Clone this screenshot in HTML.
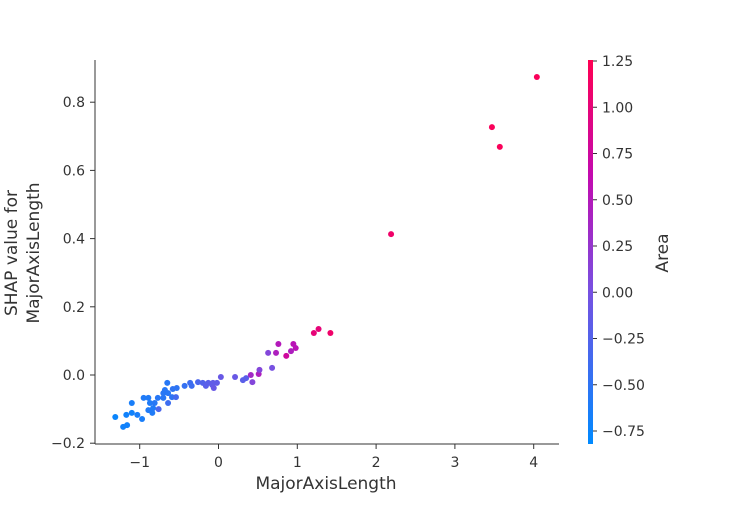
<!DOCTYPE html>
<html><head><meta charset="utf-8"><style>
body{margin:0;background:#fff}
svg{font-family:"DejaVu Sans","Liberation Sans",sans-serif;}
</style></head><body>
<svg id="chart" width="750" height="500" viewBox="0 0 750 500">
<defs><linearGradient id="cbg" x1="0" y1="1" x2="0" y2="0">
<stop offset="0" stop-color="rgb(0,138,255)"/><stop offset="0.4" stop-color="rgb(120,80,225)"/>
<stop offset="0.7" stop-color="rgb(195,10,175)"/><stop offset="1" stop-color="rgb(255,0,82)"/></linearGradient></defs>
<g id="plot"></g>
</svg>
<script>
const xVals=[-1.31,-1.21,-1.16,-1.17,-1.10,-1.03,-0.97,-1.10,-0.95,-0.89,-0.87,-0.89,-0.84,-0.83,-0.81,-0.76,-0.77,-0.70,-0.70,-0.68,-0.65,-0.64,-0.59,-0.58,-0.53,-0.54,-0.64,-0.43,-0.36,-0.34,-0.26,-0.20,-0.16,-0.13,-0.08,-0.07,-0.02,-0.06,0.03,0.21,0.31,0.35,0.41,0.43,0.51,0.52,0.68,0.63,0.73,0.76,0.86,0.92,0.95,0.98,1.21,1.27,1.42,2.19,3.47,3.57,4.04];
const yVals=[-0.123,-0.152,-0.147,-0.117,-0.111,-0.117,-0.129,-0.082,-0.067,-0.067,-0.082,-0.103,-0.111,-0.097,-0.082,-0.100,-0.067,-0.067,-0.053,-0.044,-0.023,-0.053,-0.065,-0.041,-0.038,-0.065,-0.082,-0.032,-0.023,-0.032,-0.021,-0.023,-0.032,-0.023,-0.029,-0.023,-0.023,-0.038,-0.006,-0.006,-0.015,-0.009,0.000,-0.021,0.003,0.015,0.021,0.065,0.065,0.091,0.056,0.070,0.091,0.079,0.123,0.135,0.123,0.413,0.727,0.669,0.874];
const areaVals=[-0.75,-0.7,-0.7,-0.7,-0.7,-0.65,-0.65,-0.65,-0.6,-0.6,-0.6,-0.6,-0.6,-0.6,-0.55,-0.3,-0.55,-0.55,-0.55,-0.55,-0.55,-0.55,-0.5,-0.5,-0.5,-0.35,-0.4,-0.45,-0.4,-0.4,-0.3,-0.25,-0.2,-0.2,-0.15,-0.15,-0.15,-0.1,-0.1,-0.1,-0.2,-0.2,0.35,0.1,0.45,0.1,0.0,0.1,0.45,0.5,0.75,0.45,0.55,0.55,1.0,1.0,1.1,1.1,1.2,1.2,1.2];
const xTicks=[-1,0,1,2,3,4];
const yTicks=[-0.2,0.0,0.2,0.4,0.6,0.8];
const yTickLabels=["−0.2","0.0","0.2","0.4","0.6","0.8"];
const cTicks=[-0.75,-0.5,-0.25,0,0.25,0.5,0.75,1.0,1.25];
const cTickLabels=["−0.75","−0.50","−0.25","0.00","0.25","0.50","0.75","1.00","1.25"];
const cMin=-0.82,cMax=1.255;
const NS="http://www.w3.org/2000/svg";
const g=document.getElementById('plot');
const X=v=>218.5+v*78.8, Y=v=>375-v*341;
const C=v=>61+(1.25-v)*185;
function el(t,a,p){const e=document.createElementNS(NS,t);for(const k in a)e.setAttribute(k,a[k]);(p||g).appendChild(e);return e;}
function col(v){const t=Math.max(0,Math.min(1,(v-cMin)/(cMax-cMin)));
const s=[[0,0,138,255],[0.4,120,80,225],[0.7,195,10,175],[1,255,0,82]];
for(let i=0;i<3;i++){if(t<=s[i+1][0]){const f=(t-s[i][0])/(s[i+1][0]-s[i][0]);return 'rgb('+[1,2,3].map(j=>Math.round(s[i][j]+f*(s[i+1][j]-s[i][j]))).join(',')+')';}}return 'rgb(255,0,82)';}
let e;
e=el('line',{x1:95,y1:60,x2:95,y2:444,stroke:'#333','stroke-width':1});

e=el('line',{x1:95,y1:444,x2:559,y2:444,stroke:'#333','stroke-width':1});

xTicks.forEach(v=>{
 e=el('line',{x1:X(v),y1:444,x2:X(v),y2:449,stroke:'#333'});
 
 e=el('text',{x:X(v),y:467,'text-anchor':'middle','font-size':14,fill:'#333'});e.textContent=v<0?'−'+(-v):String(v);
 
});
yTicks.forEach((v,i)=>{
 e=el('line',{x1:90,y1:Y(v),x2:95,y2:Y(v),stroke:'#333'});
 
 e=el('text',{x:85,y:Y(v)+5,'text-anchor':'end','font-size':14,fill:'#333'});e.textContent=yTickLabels[i];
 
});
xVals.forEach((v,i)=>{
 e=el('circle',{cx:X(v),cy:Y(yVals[i]),r:3,fill:col(areaVals[i])});
 
});
e=el('text',{x:326,y:489,'text-anchor':'middle','font-size':17,fill:'#333'});e.textContent='MajorAxisLength';

e=el('text',{transform:'translate(17,253) rotate(-90)','text-anchor':'middle','font-size':17,fill:'#333'});e.textContent='SHAP value for';

e=el('text',{transform:'translate(39,253) rotate(-90)','text-anchor':'middle','font-size':17,fill:'#333'});e.textContent='MajorAxisLength';

e=el('rect',{x:588,y:60,width:5,height:384,fill:'url(#cbg)'});

cTicks.forEach((v,i)=>{
 e=el('line',{x1:593,y1:C(v),x2:597,y2:C(v),stroke:'#333'});
 
 e=el('text',{x:602,y:C(v)+5,'font-size':14,fill:'#333'});e.textContent=cTickLabels[i];
 
});
e=el('text',{transform:'translate(668,253) rotate(-90)','text-anchor':'middle','font-size':17,fill:'#333'});e.textContent='Area';

</script>
</body></html>
